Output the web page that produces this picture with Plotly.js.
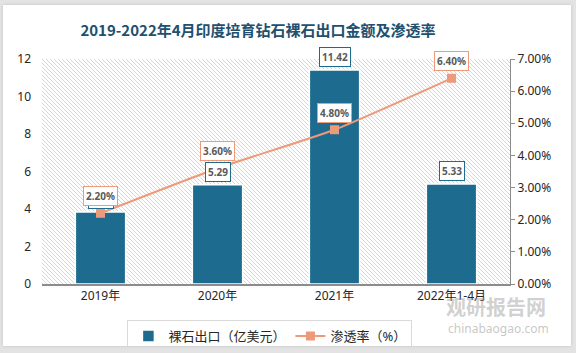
<!DOCTYPE html>
<html>
<head>
<meta charset="utf-8">
<script src="https://cdn.plot.ly/plotly-3.0.1.min.js"></script>
<style>
  html, body { margin: 0; padding: 0; background: #e3e3e3; width: 576px; height: 353px; overflow: hidden; }
  #chart { position: absolute; left: 3px; top: 5px; width: 568px; height: 341px; background: #fff; box-shadow: 0 0 3px rgba(0,0,0,0.15); }
</style>
</head>
<body>
<div id="chart"></div>
<script>
// ---- data ----
const categories = ['2019年', '2020年', '2021年', '2022年1-4月'];
const exportValues = [3.84, 5.29, 11.42, 5.33];          // 裸石出口（亿美元）
const penetration = [0.022, 0.036, 0.048, 0.064];         // 渗透率
const exportLabels = ['3.84', '5.29', '11.42', '5.33'];
const penetrationLabels = ['2.20%', '3.60%', '4.80%', '6.40%'];
const leftTicks = [0, 2, 4, 6, 8, 10, 12];

const barColor = '#1d6b8f';
const lineColor = '#ec9a7a';
const FONT = 'Noto Sans, "Noto Sans CJK SC", sans-serif';

// hatch background for plot area
const hatchSvg = '<svg xmlns="http://www.w3.org/2000/svg" width="468" height="225">' +
  '<defs><pattern id="p" patternUnits="userSpaceOnUse" width="4" height="4">' +
  '<path d="M0,0 L4,4 M-1,3 L1,5 M3,-1 L5,1" stroke="#cdcdcd" stroke-width="0.8"/></pattern></defs>' +
  '<rect width="468" height="225" fill="#ffffff"/><rect width="468" height="225" fill="url(#p)"/></svg>';
const hatchUri = 'data:image/svg+xml;charset=utf-8,' + encodeURIComponent(hatchSvg);

const traces = [
  {
    type: 'bar', name: '裸石出口（亿美元）', x: categories, y: exportValues,
    marker: { color: barColor, line: { color: '#ffffff', width: 1.5 } },
    hoverinfo: 'skip'
  },
  {
    type: 'scatter', mode: 'lines+markers', name: '渗透率（%）', x: categories, y: penetration,
    yaxis: 'y2',
    line: { color: lineColor, width: 2, shape: 'spline', smoothing: 0.5 },
    marker: { color: lineColor, symbol: 'square', size: 9 },
    hoverinfo: 'skip'
  }
];

const annotations = [];
categories.forEach((c, i) => {
  annotations.push({
    x: c, y: exportValues[i], xref: 'x', yref: 'y', yanchor: 'bottom', yshift: 3,
    text: '<b>' + exportLabels[i] + '</b>', showarrow: false,
    bgcolor: '#ffffff', bordercolor: barColor, borderwidth: 1, borderpad: 2,
    font: { family: FONT, size: 10, color: '#595959' }
  });
});
categories.forEach((c, i) => {
  annotations.push({
    x: c, y: penetration[i], xref: 'x', yref: 'y2', yanchor: 'bottom', yshift: 7,
    text: '<b>' + penetrationLabels[i] + '</b>', showarrow: false,
    bgcolor: '#ffffff', bordercolor: lineColor, borderwidth: 1, borderpad: 2,
    font: { family: FONT, size: 10, color: '#595959' }
  });
});
// watermark
annotations.push({
  xref: 'paper', yref: 'paper', x: 0.97, y: -0.1, xanchor: 'center', yanchor: 'middle', showarrow: false,
  text: '<b>观研报告网</b>', font: { family: '"Noto Sans CJK SC", sans-serif', size: 20, color: 'rgba(150,150,150,0.45)' }
});
annotations.push({
  xref: 'paper', yref: 'paper', x: 0.975, y: -0.198, xanchor: 'center', yanchor: 'middle', showarrow: false,
  text: 'chinabaogao.com', font: { family: FONT, size: 12, color: 'rgba(150,150,150,0.55)' }
});

const layout = {
  width: 568, height: 341,
  margin: { l: 39, r: 61, t: 54, b: 62, autoexpand: false },
  paper_bgcolor: 'rgba(0,0,0,0)', plot_bgcolor: '#ffffff',
  font: { family: FONT, size: 12, color: '#262626' },
  title: {
    text: '<b>2019-2022年4月印度培育钻石裸石出口金额及渗透率</b>',
    font: { family: '"Noto Sans CJK SC", sans-serif', size: 15, color: '#21506f' },
    x: 0.449, xref: 'container', xanchor: 'center', y: 0.925, yref: 'container', yanchor: 'middle'
  },
  bargap: 0.57,
  showlegend: true,
  legend: {
    orientation: 'h', x: 0.487, xanchor: 'center', y: -0.16, yanchor: 'top',
    bordercolor: '#d9d9d9', borderwidth: 1, bgcolor: '#ffffff',
    font: { family: FONT, size: 13, color: '#262626' }, traceorder: 'normal',
    itemwidth: 30
  },
  xaxis: {
    type: 'category', showline: true, linecolor: '#8c8c8c', linewidth: 1.5,
    ticks: '', showgrid: false, tickfont: { size: 12, color: '#262626' }
  },
  yaxis: {
    range: [0, 12], tickvals: leftTicks, showgrid: false, zeroline: false, showline: false,
    ticks: '', ticklabelstandoff: 10, tickfont: { size: 12, color: '#262626' }
  },
  yaxis2: {
    range: [0, 0.07], dtick: 0.01, tickformat: '.2%', overlaying: 'y', side: 'right',
    showgrid: false, zeroline: false, showline: true, linecolor: '#8c8c8c', linewidth: 1,
    ticks: 'outside', ticklen: 4, tickcolor: '#8c8c8c', tickfont: { size: 12, color: '#262626' }
  },
  images: [{
    source: hatchUri, xref: 'paper', yref: 'paper', x: 0, y: 1, sizex: 1, sizey: 1,
    xanchor: 'left', yanchor: 'top', sizing: 'stretch', layer: 'below'
  }],
  annotations: annotations
};

Plotly.newPlot('chart', traces, layout, { staticPlot: true, displayModeBar: false });
</script>
</body>
</html>
